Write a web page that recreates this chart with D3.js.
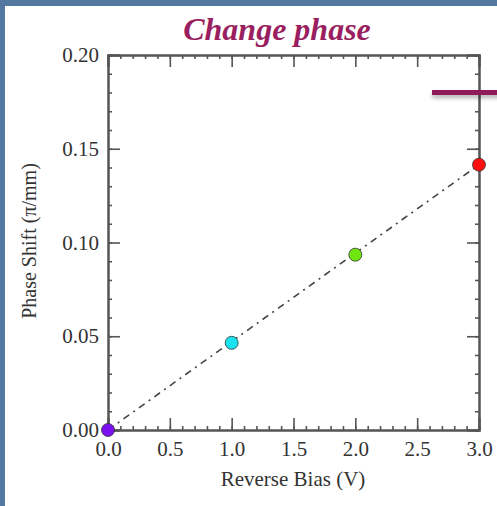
<!DOCTYPE html>
<html>
<head>
<meta charset="utf-8">
<script src="https://cdn.jsdelivr.net/npm/d3@7"></script>
<style>
  html, body { margin: 0; padding: 0; background: #5379a3; }
  svg { display: block; }
</style>
</head>
<body>
<div id="chart"></div>
<script>
// data
var biasValues = [0.0, 1.0, 2.0, 3.0];
var shiftValues = [0.0, 0.0465, 0.0935, 0.1415];
var pointColors = ["#7b10f0", "#19e3f0", "#6fe510", "#ff1010"];
var fitLine = [[0.0, 0.0], [3.0, 0.1415]];
var xTicks = [0.0, 0.5, 1.0, 1.5, 2.0, 2.5, 3.0];
var yTicks = [0.00, 0.05, 0.10, 0.15, 0.20];

const W = 497, H = 506;
const margin = { top: 55, right: 18, bottom: 76, left: 108 },
    width = W - margin.left - margin.right,
    height = H - margin.top - margin.bottom;

var svg = d3.select("#chart").append("svg")
    .attr("width", W)
    .attr("height", H);

// white slide panel
svg.append("rect")
    .attr("x", 5).attr("y", 6)
    .attr("width", W - 5).attr("height", H - 6)
    .attr("fill", "#ffffff");

// shadow filter for the maroon bar
var defs = svg.append("defs");
var f = defs.append("filter").attr("id", "shadow").attr("x", "-10%").attr("y", "-100%").attr("width", "120%").attr("height", "400%");
f.append("feDropShadow").attr("dx", 0).attr("dy", 3).attr("stdDeviation", 2).attr("flood-color", "#000").attr("flood-opacity", 0.3);

// title
svg.append("text")
    .attr("x", 277).attr("y", 40)
    .attr("text-anchor", "middle")
    .style("font-family", "'Liberation Serif', 'DejaVu Serif', serif")
    .style("font-style", "italic")
    .style("font-weight", "bold")
    .style("font-size", "32px")
    .attr("fill", "#9a1f60")
    .text("Change phase");

var g = svg.append("g")
    .attr("transform", `translate(${margin.left}, ${margin.top})`);

var x = d3.scaleLinear().domain([0, 3]).range([0, width]);
var y = d3.scaleLinear().domain([0, 0.2]).range([height, 0]);

var minorX = d3.range(0, 3.0001, 0.1);
var minorY = d3.range(0, 0.20001, 0.01);
var axisColor = "#555";
var labelFont = "'Liberation Serif', 'DejaVu Serif', serif";

// inward ticks on all four sides
function inward(axis, scale, vals, len, fmt) {
    return axis(scale).tickValues(vals).tickSize(-len).tickPadding(8)
        .tickFormat(fmt || "");
}

// bottom
g.append("g").attr("transform", `translate(0, ${height})`)
    .call(inward(d3.axisBottom, x, minorX, 4));
g.append("g").attr("class", "xmaj").attr("transform", `translate(0, ${height})`)
    .call(inward(d3.axisBottom, x, xTicks, 12, d3.format(".1f")));
// top
g.append("g").call(inward(d3.axisTop, x, minorX, 4));
g.append("g").call(inward(d3.axisTop, x, xTicks, 12));
// left
g.append("g").call(inward(d3.axisLeft, y, minorY, 4));
g.append("g").attr("class", "ymaj")
    .call(inward(d3.axisLeft, y, yTicks, 12, d3.format(".2f")));
// right
g.append("g").attr("transform", `translate(${width}, 0)`)
    .call(inward(d3.axisRight, y, minorY, 4));
g.append("g").attr("transform", `translate(${width}, 0)`)
    .call(inward(d3.axisRight, y, yTicks, 12));

g.selectAll(".domain").attr("stroke", axisColor).attr("stroke-width", 2);
g.selectAll(".tick line").attr("stroke", axisColor).attr("stroke-width", 1.6);
g.selectAll(".tick text")
    .style("font-family", labelFont)
    .style("font-size", "21px")
    .attr("fill", "#333");
g.selectAll(".xmaj .tick text").attr("dy", "0.85em");
g.selectAll(".ymaj .tick text").attr("dx", "-0.05em");

// dash-dot fit line
g.append("path")
    .datum(fitLine)
    .attr("d", d3.line().x(d => x(d[0])).y(d => y(d[1])))
    .attr("fill", "none")
    .attr("stroke", "#444")
    .attr("stroke-width", 1.6)
    .attr("stroke-dasharray", "7,5,2,5");

// points
g.selectAll("circle.pt")
    .data(biasValues)
    .enter()
    .append("circle")
    .attr("class", "pt")
    .attr("cx", d => x(d))
    .attr("cy", (d, i) => y(shiftValues[i]))
    .attr("r", 6.5)
    .attr("fill", (d, i) => pointColors[i])
    .attr("stroke", "#333")
    .attr("stroke-width", 0.8);

// axis titles
svg.append("text")
    .attr("x", 293).attr("y", 486)
    .attr("text-anchor", "middle")
    .style("font-family", labelFont)
    .style("font-size", "21px")
    .attr("fill", "#333")
    .text("Reverse Bias (V)");

svg.append("text")
    .attr("transform", "translate(36, 241) rotate(-90)")
    .attr("text-anchor", "middle")
    .style("font-family", labelFont)
    .style("font-size", "20px")
    .attr("fill", "#333")
    .text("Phase Shift (π/mm)");

// maroon slide bar
svg.append("rect")
    .attr("x", 432).attr("y", 90)
    .attr("width", 70).attr("height", 5)
    .attr("fill", "#8e1c58")
    .attr("filter", "url(#shadow)");
</script>
</body>
</html>
